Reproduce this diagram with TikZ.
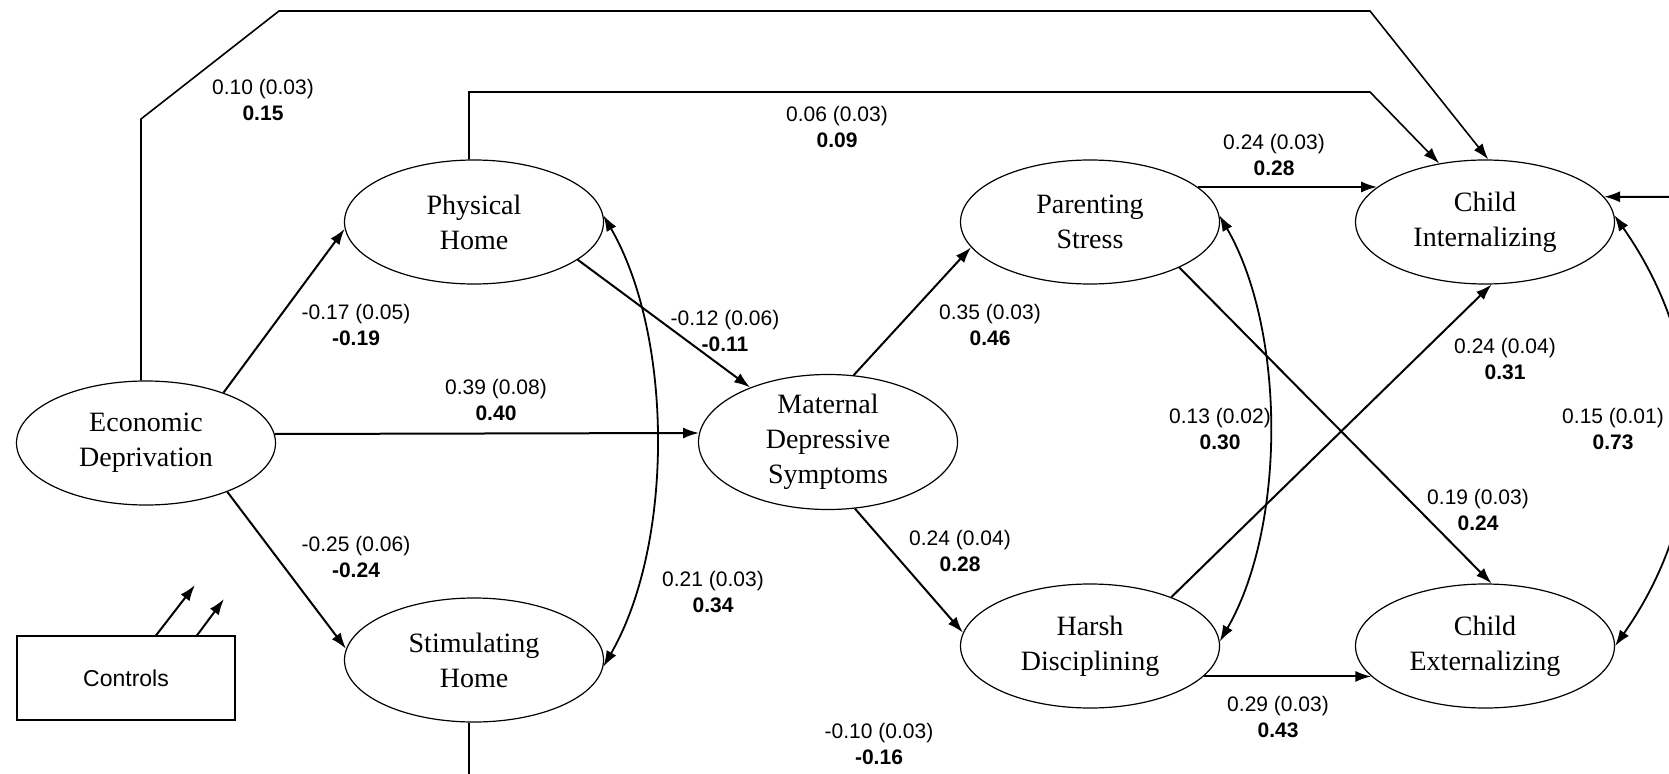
\documentclass[tikz,border=0pt]{standalone}
\usepackage{fontspec}
\setmainfont{Liberation Serif}
\setsansfont{Liberation Sans}
\usetikzlibrary{arrows.meta,shapes.geometric}

\begin{document}
\begin{tikzpicture}[
  x=1pt,y=1pt,line width=1.2pt,
  latent/.style={draw,ellipse,minimum width=259pt,minimum height=124pt,
    inner sep=0pt,align=center,font=\fontsize{28}{35}\selectfont},
  coef/.style={align=center,inner sep=0pt,
    font=\sffamily\fontsize{21}{25.5}\selectfont},
  effect/.style={-{Latex[length=16pt,width=11pt]},line width=2pt},
  cov/.style={{Latex[length=16pt,width=11pt]}-{Latex[length=16pt,width=11pt]},
    line width=1.8pt},
  route/.style={line width=1.6pt}
]
  \useasboundingbox (0,0) rectangle (1669,-773);
  \clip (0,0) rectangle (1669,-773);

  \node[latent] (econ) at (146,-443) {Economic\\Deprivation};
  \node[latent] (phys) at (474,-222) {Physical\\Home};
  \node[latent] (stim) at (474,-660) {Stimulating\\Home};
  \node[latent] (mds) at (828,-442) {Maternal\\Depressive\\Symptoms};
  \node[latent] (pstress) at (1090,-222) {Parenting\\Stress};
  \node[latent] (harsh) at (1090,-646) {Harsh\\Disciplining};
  \node[latent] (cint) at (1485,-222) {Child\\Internalizing};
  \node[latent] (cext) at (1485,-646) {Child\\Externalizing};
  \node[draw,minimum width=218pt,minimum height=84pt,
    font=\sffamily\fontsize{23}{27}\selectfont] (ctrl) at (126,-678) {Controls};

  % direct paths
  \draw[effect] (econ.33) -- (phys.183);
  \draw[effect] (econ.-31) -- (stim.175);
  \draw[effect] (econ.4) -- (mds.176);
  \draw[effect] (phys.-20) -- (mds.145);
  \draw[effect] (mds.69) -- (pstress.192);
  \draw[effect] (mds.-68) -- (harsh.174);
  \draw[effect] (pstress.18) -- (cint.162);
  \draw[effect] (harsh.-15) -- (cext.195);
  \draw[effect] (pstress.-27) -- (cext.84);
  \draw[effect] (harsh.31) -- (cint.-84);

  % routed paths over the top and out of the frame
  \coordinate (r1) at (141,-119);
  \coordinate (r2) at (279,-11);
  \coordinate (r3) at (1370,-11);
  \draw[effect,route] (r1 |- econ.north) -- (r1) -- (r2) -- (r3) -- (cint.87);
  \coordinate (r4) at (469,-92);
  \coordinate (r5) at (1370,-92);
  \draw[effect,route] (r4 |- phys.north) -- (r4) -- (r5) -- (cint.128);
  \coordinate (r6) at (469,-790);
  \draw[route] (r6 |- stim.south) -- (r6);
  \coordinate (r7) at (1690,-197);
  \draw[effect] (r7) -- (cint.12);

  \coordinate (c1) at (195,-585);
  \coordinate (c2) at (224,-599);
  \draw[effect] ([xshift=30pt]ctrl.north) -- (c1);
  \draw[effect] ([xshift=71pt]ctrl.north) -- (c2);

  % covariances
  \draw[cov] (phys.3) to[out=-60,in=60,looseness=0.8] (stim.-3);
  \draw[cov] (pstress.3) to[out=-60,in=60,looseness=0.8] (harsh.2);
  \draw[cov] (cint.3) to[out=-55,in=55,looseness=1] (cext.0);

  \node[coef] (b1) at (263,-100) {0.10 (0.03)\\\textbf{0.15}};
  \node[coef] (b2) at (837,-127) {0.06 (0.03)\\\textbf{0.09}};
  \node[coef] (b3) at (1274,-155) {0.24 (0.03)\\\textbf{0.28}};
  \node[coef] (b4) at (356,-325) {-0.17 (0.05)\\\textbf{-0.19}};
  \node[coef] (b5) at (725,-331) {-0.12 (0.06)\\\textbf{-0.11}};
  \node[coef] (b6) at (990,-325) {0.35 (0.03)\\\textbf{0.46}};
  \node[coef] (b7) at (496,-400) {0.39 (0.08)\\\textbf{0.40}};
  \node[coef] (b8) at (1220,-429) {0.13 (0.02)\\\textbf{0.30}};
  \node[coef] (b9) at (1505,-359) {0.24 (0.04)\\\textbf{0.31}};
  \node[coef] (b10) at (1613,-429) {0.15 (0.01)\\\textbf{0.73}};
  \node[coef] (b11) at (1478,-510) {0.19 (0.03)\\\textbf{0.24}};
  \node[coef] (b12) at (356,-557) {-0.25 (0.06)\\\textbf{-0.24}};
  \node[coef] (b13) at (960,-551) {0.24 (0.04)\\\textbf{0.28}};
  \node[coef] (b14) at (713,-592) {0.21 (0.03)\\\textbf{0.34}};
  \node[coef] (b15) at (1278,-717) {0.29 (0.03)\\\textbf{0.43}};
  \node[coef] (b16) at (879,-744) {-0.10 (0.03)\\\textbf{-0.16}};
\end{tikzpicture}
\end{document}
